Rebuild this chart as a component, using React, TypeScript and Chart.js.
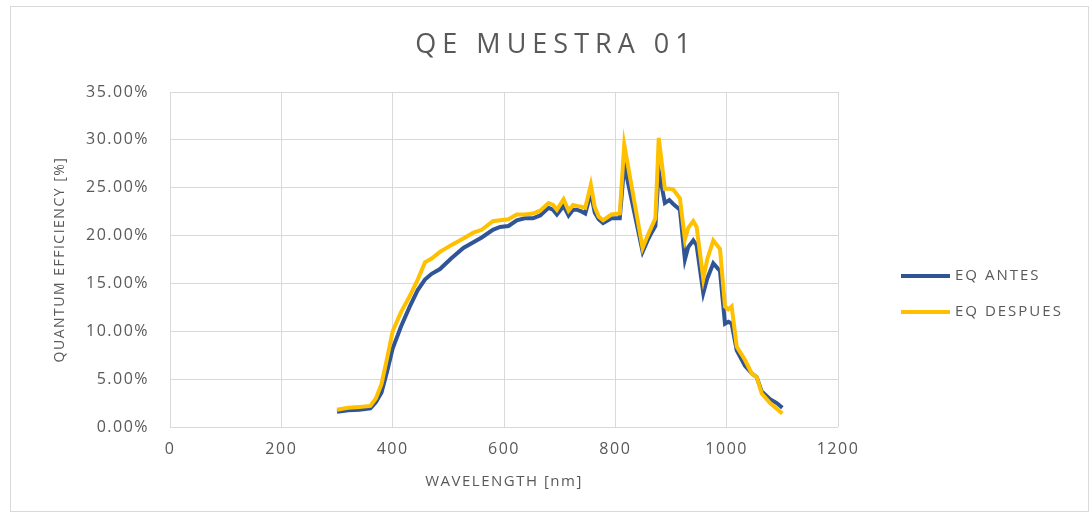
import React, { useEffect, useRef } from "react";
import { Chart, registerables } from "chart.js";

Chart.register(...registerables);

const TITLE = "QE MUESTRA 01";
const X_TITLE = "WAVELENGTH [nm]";
const Y_TITLE = "QUANTUM EFFICIENCY [%]";
const SERIES_NAMES = ["EQ ANTES", "EQ DESPUES"];
const SERIES_COLORS = ["#2F5597", "#FFC000"];

const WAVELENGTH = [
  300, 320, 340, 360, 370, 380, 390, 400, 415, 430, 445, 458, 470, 485, 505,
  527, 545, 560, 580, 593, 608, 623, 637, 652, 665, 680, 688, 695, 707, 716,
  724, 731, 740, 746, 756, 763, 770, 778, 793, 808, 816, 849, 858, 865, 872,
  878, 889, 897, 904, 916, 925, 931, 940, 946, 958, 965, 976, 988, 997, 1003,
  1009, 1018, 1033, 1045, 1054, 1063, 1078, 1090, 1100,
];

const EQ_ANTES = [
  1.6, 1.75, 1.8, 1.95, 2.6, 3.6, 5.8, 8.2, 10.5, 12.5, 14.3, 15.4, 16.0, 16.5,
  17.6, 18.7, 19.3, 19.8, 20.6, 20.9, 21.0, 21.6, 21.8, 21.8, 22.1, 22.9, 22.7,
  22.2, 23.1, 22.1, 22.7, 22.7, 22.5, 22.3, 24.5, 22.4, 21.7, 21.3, 21.8, 21.8,
  27.4, 18.3, 19.5, 20.3, 21.0, 26.8, 23.4, 23.7, 23.3, 22.7, 17.5, 18.8, 19.5,
  19.0, 14.0, 15.5, 17.1, 16.3, 10.8, 11.0, 10.8, 8.0, 6.4, 5.6, 5.2, 3.7, 2.9,
  2.5, 2.0,
];

const EQ_DESPUES = [
  1.8, 2.0, 2.1, 2.2, 3.0, 4.5, 7.2, 10.0, 12.0, 13.6, 15.4, 17.2, 17.6, 18.3,
  19.0, 19.7, 20.3, 20.6, 21.5, 21.6, 21.7, 22.2, 22.2, 22.3, 22.6, 23.4, 23.2,
  22.7, 23.8, 22.6, 23.2, 23.1, 23.0, 22.9, 25.3, 23.0, 22.0, 21.6, 22.2, 22.3,
  29.5, 18.7, 20.0, 20.9, 21.8, 30.2, 24.9, 24.9, 24.8, 23.9, 19.6, 20.8, 21.5,
  20.9, 15.5, 17.5, 19.5, 18.6, 12.6, 12.3, 12.6, 8.4, 7.0, 5.6, 5.2, 3.5, 2.5,
  1.9, 1.4,
];

const X_TICKS = [0, 200, 400, 600, 800, 1000, 1200];
const Y_TICKS = [0, 5, 10, 15, 20, 25, 30, 35];

const FONT = '"Open Sans", "Liberation Sans", sans-serif';
const TEXT = "#595959";
const GRID = "#D9D9D9";

export default function App() {
  const ref = useRef<HTMLCanvasElement>(null);

  useEffect(() => {
    const canvas = ref.current;
    if (!canvas) return;

    const spacing = {
      id: "spacing",
      beforeUpdate(c: any) {
        c.ctx.letterSpacing = "1.5px";
      },
      beforeDraw(c: any) {
        const ctx = c.ctx;
        ctx.save();
        ctx.letterSpacing = "0px";
        ctx.fillStyle = "#FFFFFF";
        ctx.fillRect(0, 0, c.width, c.height);
        ctx.strokeStyle = GRID;
        ctx.lineWidth = 1;
        ctx.strokeRect(10.5, 6.5, c.width - 13, c.height - 9);
        ctx.restore();
        ctx.letterSpacing = "1.5px";
      },
    };

    const deco = {
      id: "deco",
      afterDraw(c: any) {
        const ctx = c.ctx;
        ctx.save();
        ctx.fillStyle = TEXT;
        ctx.letterSpacing = "6px";
        ctx.font = `27px ${FONT}`;
        ctx.textAlign = "center";
        ctx.textBaseline = "middle";
        ctx.fillText(TITLE, 556, 45);

        const lx = c.chartArea.right + 63;
        SERIES_NAMES.forEach((name, i) => {
          const y = 276 + i * 36;
          ctx.strokeStyle = SERIES_COLORS[i];
          ctx.lineWidth = 4;
          ctx.beginPath();
          ctx.moveTo(lx, y);
          ctx.lineTo(lx + 49, y);
          ctx.stroke();
          ctx.letterSpacing = "2px";
          ctx.font = `15px ${FONT}`;
          ctx.textAlign = "left";
          ctx.fillStyle = TEXT;
          ctx.fillText(name, lx + 54, y);
        });
        ctx.restore();
      },
    };

    const makeData = (vals: number[]) =>
      WAVELENGTH.map((x, i) => ({ x, y: vals[i] }));

    const chart = new Chart(canvas, {
      type: "scatter",
      data: {
        datasets: [
          {
            label: SERIES_NAMES[0],
            data: makeData(EQ_ANTES),
            showLine: true,
            borderColor: SERIES_COLORS[0],
            backgroundColor: SERIES_COLORS[0],
            borderWidth: 4,
            pointRadius: 0,
            tension: 0,
            order: 2,
          },
          {
            label: SERIES_NAMES[1],
            data: makeData(EQ_DESPUES),
            showLine: true,
            borderColor: SERIES_COLORS[1],
            backgroundColor: SERIES_COLORS[1],
            borderWidth: 4,
            pointRadius: 0,
            tension: 0,
            order: 1,
          },
        ],
      },
      options: {
        responsive: false,
        animation: false,
        devicePixelRatio: 1,
        layout: { padding: { left: 52, right: 253, top: 92, bottom: 23 } },
        plugins: {
          legend: { display: false },
          title: { display: false },
          tooltip: { enabled: false },
        },
        scales: {
          x: {
            type: "linear",
            min: 0,
            max: 1200,
            afterBuildTicks: (s: any) => {
              s.ticks = X_TICKS.map((v) => ({ value: v }));
            },
            ticks: {
              color: TEXT,
              font: { family: FONT, size: 16 },
              padding: 13,
              maxRotation: 0,
              callback: (v: any) => String(v),
            },
            grid: { color: GRID, lineWidth: 1, drawTicks: false },
            border: { display: false },
            title: {
              display: true,
              text: X_TITLE,
              color: TEXT,
              font: { family: FONT, size: 15 },
              padding: { top: 0, bottom: 0 },
            },
            afterFit: (s: any) => {
              s.height = 64;
            },
          },
          y: {
            type: "linear",
            min: 0,
            max: 35,
            afterBuildTicks: (s: any) => {
              s.ticks = Y_TICKS.map((v) => ({ value: v }));
            },
            ticks: {
              color: TEXT,
              font: { family: FONT, size: 16 },
              padding: 21,
              callback: (v: any) => Number(v).toFixed(2) + "%",
            },
            grid: { color: GRID, lineWidth: 1, drawTicks: false },
            border: { display: false },
            title: {
              display: true,
              text: Y_TITLE,
              color: TEXT,
              font: { family: FONT, size: 14 },
              padding: { top: 0, bottom: 0 },
            },
            afterFit: (s: any) => {
              s.width = 118;
            },
          },
        },
      },
      plugins: [spacing, deco],
    } as any);

    return () => chart.destroy();
  }, []);

  return (
    <div
      style={{
        position: "fixed",
        left: 0,
        top: 0,
        width: 1091,
        height: 514,
        background: "#FFFFFF",
      }}
    >
      <canvas
        ref={ref}
        width={1091}
        height={514}
        style={{ display: "block", width: 1091, height: 514 }}
      />
    </div>
  );
}
